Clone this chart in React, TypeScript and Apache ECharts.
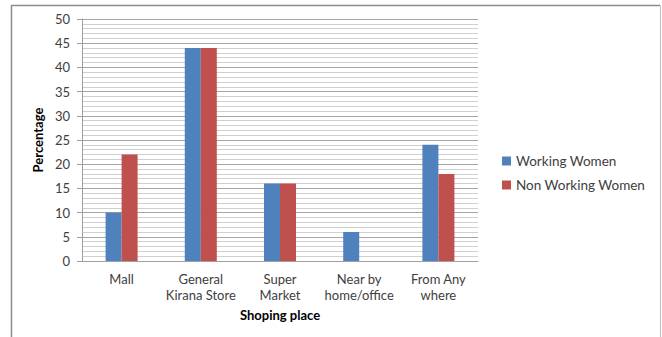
import React, { useEffect, useRef } from "react";
import * as echarts from "echarts";

const categories = ["Mall", "General\nKirana Store", "Super\nMarket", "Near by\nhome/office", "From Any\nwhere"];
const workingWomen = [10, 44, 16, 6, 24];
const nonWorkingWomen = [22, 44, 16, 0, 18];
const seriesNames = ["Working Women", "Non Working Women"];

const FONT = "Lato, 'Open Sans', sans-serif";
const TEXT = "#404040";

export default function App() {
  const ref = useRef<HTMLDivElement>(null);

  useEffect(() => {
    document.body.style.margin = "0";
    if (!ref.current) return;
    const chart = echarts.init(ref.current, undefined, { renderer: "svg" });
    chart.setOption({
      animation: false,
      backgroundColor: "#ffffff",
      textStyle: { fontFamily: FONT },
      graphic: [
        { type: "line", shape: { x1: 11, y1: 5.5, x2: 660, y2: 5.5 }, style: { stroke: "#8c8c8c", lineWidth: 1.5 } },
        { type: "line", shape: { x1: 11.5, y1: 5, x2: 11.5, y2: 337 }, style: { stroke: "#8c8c8c", lineWidth: 1.5 } },
        { type: "line", shape: { x1: 660.5, y1: 5, x2: 660.5, y2: 337 }, style: { stroke: "#c0c0c0", lineWidth: 1 } },
      ],
      grid: { left: 82, right: 184, top: 19, bottom: 76 },
      legend: {
        orient: "vertical",
        left: 497,
        top: 149,
        itemWidth: 9,
        itemHeight: 9,
        itemGap: 10,
        icon: "rect",
        textStyle: { color: TEXT, fontSize: 13.5, fontFamily: FONT },
        data: seriesNames,
      },
      xAxis: {
        type: "category",
        data: categories,
        name: "Shoping place",
        nameLocation: "middle",
        nameGap: 47,
        nameTextStyle: { fontWeight: "bold", fontSize: 13, color: "#000", fontFamily: FONT },
        axisLine: { lineStyle: { color: "#a0a0a0" } },
        axisTick: { show: false },
        axisLabel: { color: TEXT, fontSize: 13, lineHeight: 16, margin: 10, interval: 0, fontFamily: FONT },
      },
      yAxis: {
        type: "value",
        min: 0,
        max: 50,
        interval: 5,
        name: "Percentage",
        nameLocation: "middle",
        nameGap: 37,
        nameTextStyle: { fontWeight: "bold", fontSize: 13, color: "#000", fontFamily: FONT },
        axisLine: { show: true, lineStyle: { color: "#a0a0a0" } },
        axisTick: { show: true, length: 5, lineStyle: { color: "#a0a0a0" } },
        axisLabel: { color: TEXT, fontSize: 13, margin: 12, fontFamily: FONT },
        splitLine: { lineStyle: { color: "#a6a6a6" } },
        minorTick: { show: false, splitNumber: 5 },
        minorSplitLine: { show: true, lineStyle: { color: "#d0d0d0" } },
      },
      series: [
        {
          name: seriesNames[0],
          type: "bar",
          data: workingWomen,
          barWidth: 16,
          barGap: "0%",
          itemStyle: { color: "#4f81bd" },
        },
        {
          name: seriesNames[1],
          type: "bar",
          data: nonWorkingWomen,
          barWidth: 16,
          barGap: "0%",
          itemStyle: { color: "#c0504d" },
        },
      ],
    });
    return () => chart.dispose();
  }, []);

  return <div ref={ref} style={{ width: 662, height: 337 }} />;
}
